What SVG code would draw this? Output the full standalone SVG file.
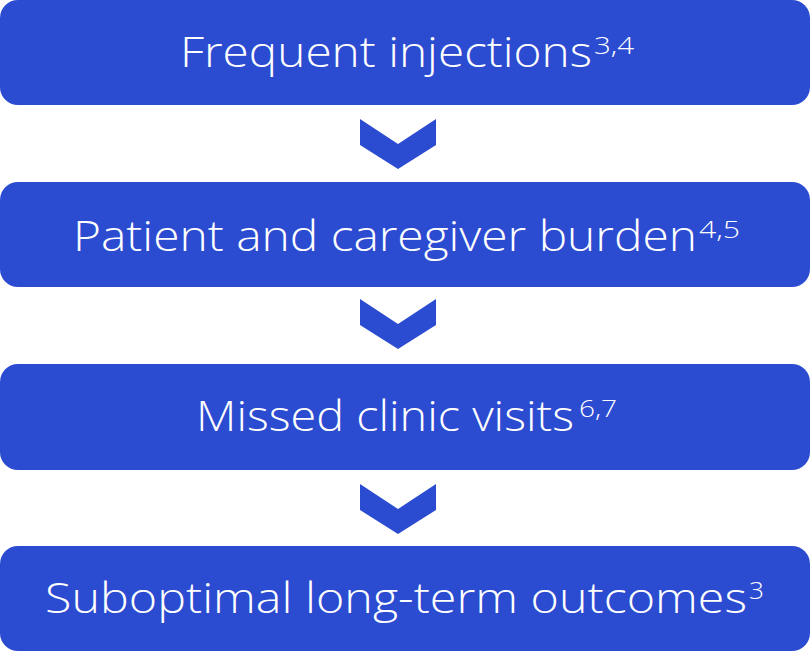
<svg xmlns="http://www.w3.org/2000/svg" width="810" height="651" viewBox="0 0 810 651">
  <style>
    .box { fill: #2b4bd1; }
    .chev { fill: #2b4bd1; }
    .label { font-family: "Open Sans", "Liberation Sans", sans-serif; font-size: 42px; font-weight: 300; fill: #ffffff; }
    .sup { font-size: 23px; }
  </style>
  <defs>
    <!-- downward chevron centred on x=0, top at y=0 -->
    <polygon id="chevron" class="chev" points="-38,0 0,25 38,0 38,26 0,50 -38,26"/>
  </defs>

  <g id="node-frequent-injections">
    <rect class="box" x="0" y="0" width="810" height="105" rx="18"/>
    <text class="label" y="67"><tspan x="180" textLength="412" lengthAdjust="spacingAndGlyphs">Frequent injections</tspan><tspan class="sup" x="594" y="54" textLength="40" lengthAdjust="spacingAndGlyphs">3,4</tspan></text>
  </g>

  <g id="node-burden">
    <rect class="box" x="0" y="182" width="810" height="105" rx="18"/>
    <text class="label" y="251"><tspan x="73" textLength="624" lengthAdjust="spacingAndGlyphs">Patient and caregiver burden</tspan><tspan class="sup" x="699" y="238" textLength="41" lengthAdjust="spacingAndGlyphs">4,5</tspan></text>
  </g>

  <g id="node-missed-visits">
    <rect class="box" x="0" y="364" width="810" height="106" rx="18"/>
    <text class="label" y="431"><tspan x="196" textLength="378" lengthAdjust="spacingAndGlyphs">Missed clinic visits</tspan><tspan class="sup" x="579" y="417" textLength="38" lengthAdjust="spacingAndGlyphs">6,7</tspan></text>
  </g>

  <g id="node-outcomes">
    <rect class="box" x="0" y="546" width="810" height="105" rx="18"/>
    <text class="label" y="613"><tspan x="45" textLength="702" lengthAdjust="spacingAndGlyphs">Suboptimal long-term outcomes</tspan><tspan class="sup" x="749" y="599" textLength="15" lengthAdjust="spacingAndGlyphs">3</tspan></text>
  </g>

  <g id="connectors">
    <use href="#chevron" x="398" y="119"/>
    <use href="#chevron" x="398" y="299"/>
    <use href="#chevron" x="398" y="484"/>
  </g>
</svg>
